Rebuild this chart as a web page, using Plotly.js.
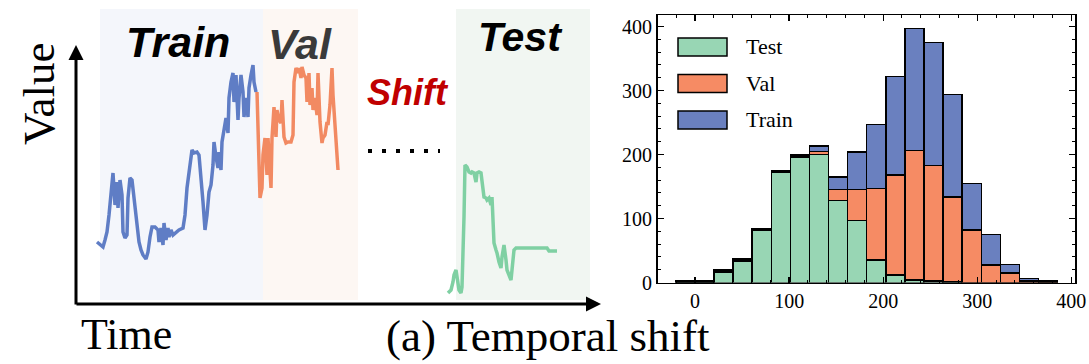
<!DOCTYPE html>
<html><head><meta charset="utf-8">
<script src="https://cdn.plot.ly/plotly-3.0.1.min.js"></script>
<style>html,body{margin:0;padding:0;background:#fff}</style>
</head><body><div id="chart" style="width:1089px;height:364px"></div>
<script>
// ---------- Left panel: schematic series (time index, value) ----------
const trainT = [21,24,27,29,31,33,36,37,39,41,42,44,46,47,49,51,52,54,56,58,61,63,65,67,70,72,74,76,79,82,83,85,87,88,90,92,93,95,97,100,103,107,109,111,114,116,118,121,123,125,127,129,131,133,135,137,138,140,142,143,145,146,148,150,152,153,155,157,158,160,162,163,165,167,168,170,172,173,175,177,178,180];
const trainV = [62,59,57,64,72,89,129,131,99,122,96,124,109,72,66,69,106,126,124,106,82,62,54,49,45,52,67,77,77,74,62,76,59,81,64,76,67,74,69,72,74,76,89,116,139,154,151,152,149,129,102,74,89,112,119,139,162,147,136,152,134,162,176,186,171,206,222,231,202,229,184,206,229,212,187,206,187,216,229,239,222,212];
const valT = [181,182,184,186,187,189,191,192,194,195,196,198,200,201,203,205,206,208,210,212,215,217,218,220,222,223,225,226,228,230,231,233,234,236,237,239,241,242,244,246,247,249,251,252,254,256,257,259,261,262];
const valV = [212,166,106,116,149,166,129,166,119,116,166,197,167,194,184,181,204,167,161,162,162,169,222,236,231,236,226,237,229,226,202,231,199,216,194,206,189,231,182,161,166,169,182,179,199,236,209,182,149,134];
const testT = [372,375,377,378,380,381,383,385,386,388,389,391,393,395,396,398,400,401,403,405,406,408,410,411,413,415,416,417,418,420,421,423,425,426,428,430,431,433,435,436,438,440,451,464,471,473,477,481];
const testV = [11,14,22,29,34,26,14,11,17,87,139,137,132,131,132,131,122,131,132,131,121,107,106,104,106,99,107,87,61,54,51,42,36,47,59,44,34,29,24,34,54,56,56,56,56,53,53,53];

const splitNames = ['Train', 'Val', 'Test'];
const splitStart = [24, 187, 380];
const splitEnd = [187, 282, 514];

// ---------- Right panel: stacked histogram ----------
const binCenters = [-10.35,9.95,30.25,50.55,70.85,91.15,111.45,131.75,152.05,172.35,192.65,212.95,233.25,253.55,273.85,294.15,314.45,334.75,355.05,375.35];
const binWidth = 20.3;
const histTest  = [1,1,16,33,82,172,196,200,128,97,35,12,4,2,1,0,0,0,0,0];
const histVal   = [0,0,2,2,1,1,1,5,17,48,112,156,202,181,133,82,27,15,2,1];
const histTrain = [1,1,2,2,1,1,2,8,20,59,100,154,191,192,160,73,48,13,4,2];
const xTicks = [0,100,200,300,400];
const yTicks = [0,100,200,300,400];

const W = 1089, H = 364;
const px = x => x / W;
const py = y => 1 - y / H;

const C = {
  train: '#5f7dc5', val: '#f28a62', test: '#7fd0a3',
  trainBar: '#6a80bf', valBar: '#f68b64', testBar: '#98d6b4',
  trainBg: '#f4f6fb', valBg: '#fdf7f3', testBg: '#f1f6f2'
};

const traces = [
  {x: trainT, y: trainV, type: 'scatter', mode: 'lines', line: {color: C.train, width: 3.5}, xaxis: 'x', yaxis: 'y', showlegend: false, hoverinfo: 'skip'},
  {x: valT, y: valV, type: 'scatter', mode: 'lines', line: {color: C.val, width: 3.5}, xaxis: 'x', yaxis: 'y', showlegend: false, hoverinfo: 'skip'},
  {x: testT, y: testV, type: 'scatter', mode: 'lines', line: {color: C.test, width: 3.5}, xaxis: 'x', yaxis: 'y', showlegend: false, hoverinfo: 'skip'},
  {x: binCenters, y: histTest, width: binWidth, type: 'bar', name: 'Test', marker: {color: C.testBar, line: {color: '#000', width: 1.5}}, xaxis: 'x2', yaxis: 'y2', showlegend: false},
  {x: binCenters, y: histVal, width: binWidth, type: 'bar', name: 'Val', marker: {color: C.valBar, line: {color: '#000', width: 1.5}}, xaxis: 'x2', yaxis: 'y2', showlegend: false},
  {x: binCenters, y: histTrain, width: binWidth, type: 'bar', name: 'Train', marker: {color: C.trainBar, line: {color: '#000', width: 1.5}}, xaxis: 'x2', yaxis: 'y2', showlegend: false}
];

const bgCols = [C.trainBg, C.valBg, C.testBg];
const shapes = splitNames.map((n, i) => ({
  type: 'rect', xref: 'x', yref: 'y', x0: splitStart[i], x1: splitEnd[i], y0: 4, y1: 295,
  fillcolor: bgCols[i], line: {width: 0}, layer: 'below'
}));
// dotted ellipsis
shapes.push({type: 'line', xref: 'paper', yref: 'paper', x0: px(368), x1: px(440), y0: py(151), y1: py(151),
  line: {color: '#000', width: 4, dash: '4px,10px'}});
// custom legend swatches
const legCols = [C.testBar, C.valBar, C.trainBar];
const legY = [47, 83.5, 120];
legCols.forEach((c, i) => shapes.push({type: 'rect', xref: 'paper', yref: 'paper',
  x0: px(678), x1: px(727), y0: py(legY[i] - 9), y1: py(legY[i] + 9), fillcolor: c, line: {color: '#000', width: 1.5}}));

const serif = 'Liberation Serif, Times New Roman, serif';
const sansBI = 'Liberation Sans, Arial, sans-serif';
function label(text, x, y, font, extra) {
  return Object.assign({text: text, x: px(x), y: py(y), xref: 'paper', yref: 'paper', showarrow: false,
    xanchor: 'center', yanchor: 'middle', borderpad: 0, font: font}, extra || {});
}
const annotations = [
  label('Train', 178, 42, {family: sansBI, size: 43, color: '#000', weight: 'bold', style: 'italic'}),
  label('Val', 300, 44, {family: sansBI, size: 43, color: '#3a3a3a', weight: 'bold', style: 'italic'}),
  label('Test', 520, 37, {family: sansBI, size: 41, color: '#000', weight: 'bold', style: 'italic'}),
  label('Shift', 408, 92, {family: sansBI, size: 36, color: '#c00000', weight: 'bold', style: 'italic'}),
  label('Value', 39, 94, {family: serif, size: 45, color: '#000'}, {textangle: -90}),
  label('Time', 126, 334, {family: serif, size: 44, color: '#000'}),
  label('(a) Temporal shift', 548, 336, {family: serif, size: 45, color: '#000'}),
  // axis arrows
  {text: '', x: px(76), y: py(45), xref: 'paper', yref: 'paper', showarrow: true, ax: 0, ay: 261, axref: 'pixel', ayref: 'pixel', arrowhead: 2, arrowsize: 1, arrowwidth: 3, arrowcolor: '#000'},
  {text: '', x: px(601), y: py(304), xref: 'paper', yref: 'paper', showarrow: true, ax: -526, ay: 0, axref: 'pixel', ayref: 'pixel', arrowhead: 2, arrowsize: 1, arrowwidth: 3, arrowcolor: '#000'}
];
['Test', 'Val', 'Train'].forEach((n, i) => annotations.push(
  label(n, 745, legY[i], {family: serif, size: 22, color: '#000'}, {xanchor: 'left'})));

const axisCommon = {
  showgrid: false, zeroline: false, showline: true, linecolor: '#000', linewidth: 1.5, mirror: 'ticks',
  ticks: 'inside', ticklen: 6, tickwidth: 1.3, tickcolor: '#000',
  tickfont: {family: serif, size: 20, color: '#000'}
};

const layout = {
  width: W, height: H, margin: {l: 0, r: 0, t: 0, b: 0},
  paper_bgcolor: '#fff', plot_bgcolor: 'rgba(0,0,0,0)',
  barmode: 'stack', bargap: 0,
  xaxis: {domain: [0, 600 / W], range: [-76, 524], visible: false, fixedrange: true},
  yaxis: {domain: [0, 1], range: [-60, 304], visible: false, fixedrange: true},
  xaxis2: Object.assign({}, axisCommon, {domain: [px(657.5), px(1075)], range: [-40, 404], anchor: 'y2',
    tickvals: xTicks, ticktext: xTicks.map(String),
    minor: {tick0: 0, dtick: 20, ticks: 'inside', ticklen: 3, tickwidth: 1, tickcolor: '#000', showgrid: false}}),
  yaxis2: Object.assign({}, axisCommon, {domain: [py(282.5), py(15)], range: [0, 418], anchor: 'x2',
    tickvals: yTicks, ticktext: yTicks.map(String),
    minor: {tick0: 0, dtick: 20, ticks: 'inside', ticklen: 3, tickwidth: 1, tickcolor: '#000', showgrid: false}}),
  shapes: shapes,
  annotations: annotations,
  showlegend: false
};

Plotly.newPlot('chart', traces, layout, {staticPlot: true, displayModeBar: false});
</script></body></html>
